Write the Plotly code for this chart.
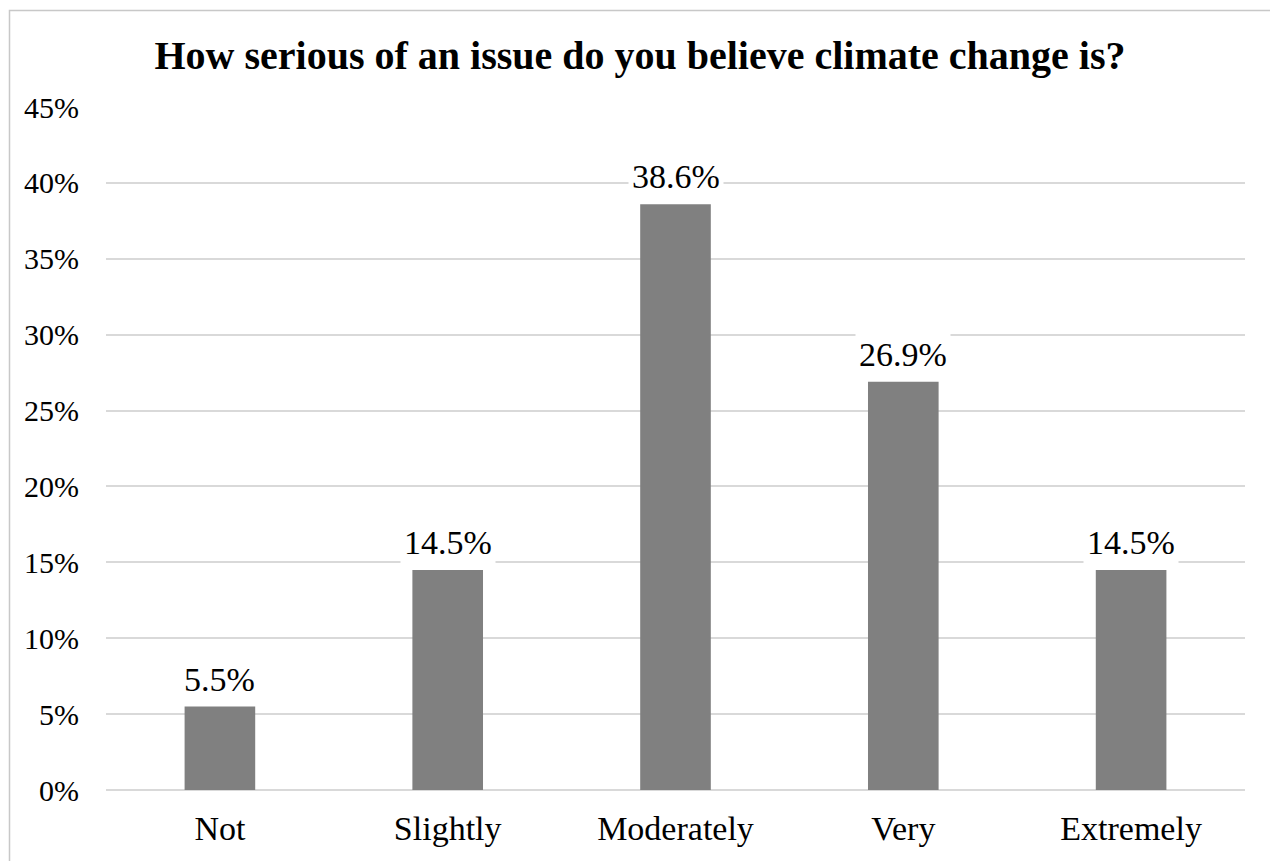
import plotly.graph_objects as go

categories = ["Not", "Slightly", "Moderately", "Very", "Extremely"]
values = [5.5, 14.5, 38.6, 26.9, 14.5]
tick_vals = [0, 5, 10, 15, 20, 25, 30, 35, 40, 45]
tick_text = [f"{v}%" for v in tick_vals]
title_text = "How serious of an issue do you believe climate change is?"

FONT = "Liberation Serif, Times New Roman, serif"

fig = go.Figure()
fig.add_trace(go.Bar(
    x=categories, y=values,
    marker=dict(color="#808080", line=dict(width=0)),
    width=0.31,
    hoverinfo="skip",
))

for c, v in zip(categories, values):
    fig.add_annotation(
        x=c, y=v, xref="x", yref="y",
        text=f"{v:.1f}%", showarrow=False,
        yanchor="bottom", yshift=5,
        bgcolor="white", borderpad=3,
        font=dict(family=FONT, size=34, color="#000000"),
    )

W, H = 1270, 861
ml, mr, mt, mb = 106, 25, 107, 71
pw, ph = W - ml - mr, H - mt - mb
# chart frame (top and left edges visible)
fig.add_shape(
    type="rect", xref="paper", yref="paper",
    x0=(9.5 - ml) / pw, x1=(W + 20 - ml) / pw,
    y0=-(mb + 30) / ph, y1=1 + (mt - 10.5) / ph,
    line=dict(color="#c8c8c8", width=1.5), fillcolor="rgba(0,0,0,0)",
    layer="below",
)

fig.update_layout(
    width=W, height=H,
    margin=dict(l=ml, r=mr, t=mt, b=mb),
    paper_bgcolor="white", plot_bgcolor="white",
    showlegend=False,
    bargap=0.69,
    title=dict(
        text=f"<b>{title_text}</b>", x=(640) / W, xanchor="center",
        y=1 - 55 / H, yanchor="middle",
        font=dict(family=FONT, size=40, color="#000000"),
    ),
    font=dict(family=FONT, color="#000000"),
)
fig.update_xaxes(
    showgrid=False, showline=False, ticks="",
    tickfont=dict(family=FONT, size=34, color="#000000"),
    ticklabelstandoff=15,
)
fig.update_yaxes(
    range=[0, 45], tickvals=tick_vals, ticktext=tick_text,
    showgrid=True, gridcolor="#d9d9d9", gridwidth=1.5,
    zeroline=True, zerolinecolor="#d9d9d9", zerolinewidth=1.5,
    showline=False, ticks="",
    tickfont=dict(family=FONT, size=30, color="#000000"),
    ticklabelstandoff=26,
)

fig.write_html("out.html")
